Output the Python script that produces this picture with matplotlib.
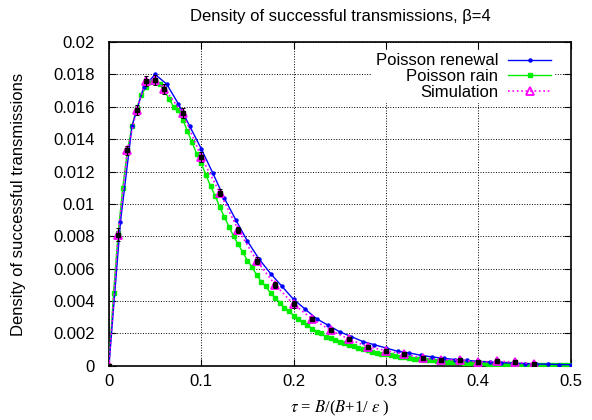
import numpy as np
import matplotlib
matplotlib.use("Agg")
import matplotlib.pyplot as plt
from matplotlib.ticker import FormatStrFormatter

plt.rcParams['font.family'] = ['Liberation Sans', 'DejaVu Sans']
plt.rcParams['mathtext.fontset'] = 'stix'

# Poisson renewal (markers every 0.0125)
renewal_x = np.arange(41) * 0.0125
renewal_y = [0, 0.0089, 0.0148, 0.0172, 0.0180, 0.0174, 0.0162, 0.0148, 0.0134,
             0.0119, 0.01035, 0.0090, 0.0077, 0.0066, 0.0057, 0.0049, 0.0041,
             0.0035, 0.0029, 0.0025, 0.0021, 0.0018, 0.0015, 0.0013, 0.0011,
             0.0009, 0.0008, 0.00065, 0.00055, 0.00046, 0.00039, 0.00033,
             0.00028, 0.00023, 0.0002, 0.00016, 0.00014, 0.00011, 0.0001,
             0.00008, 0.00007]

# Poisson rain (markers every 0.005)
rain_x = np.arange(101) * 0.005
rain_y = [0, 0.0045, 0.0082, 0.0110, 0.0133, 0.0148, 0.0159, 0.0167, 0.0172, 0.0175,
          0.0176, 0.0174, 0.0170, 0.0165, 0.0160, 0.0158, 0.0152, 0.0145, 0.0138, 0.0131,
          0.0125, 0.0118, 0.0111, 0.0105, 0.0098, 0.0092, 0.0086, 0.0080, 0.0075, 0.0070,
          0.0065, 0.0061, 0.0056, 0.0052, 0.0049, 0.0045, 0.0042, 0.0039, 0.0036, 0.0034,
          0.0031, 0.0029, 0.0027, 0.0025, 0.0023, 0.0021, 0.0020, 0.0018, 0.0017, 0.0016,
          0.0015, 0.0014, 0.0013, 0.0012, 0.0011, 0.00102, 0.00095, 0.00088, 0.00082, 0.00076,
          0.00072, 0.00066, 0.00061, 0.00057, 0.00053, 0.00049, 0.00045, 0.00042, 0.00039, 0.00036,
          0.00033, 0.00031, 0.00028, 0.00026, 0.00024, 0.00022, 0.00021, 0.00019, 0.00018, 0.00017,
          0.00016, 0.00015, 0.00014, 0.00013, 0.00012, 0.00011, 0.0001, 0.0001, 0.00009, 0.00008,
          0.00008, 0.00007, 0.00007, 0.00006, 0.00006, 0.00005, 0.00005, 0.00005, 0.00004, 0.00004,
          0.00004]

# Simulation
sim_x = [0, 0.01, 0.02, 0.03, 0.04, 0.05, 0.06, 0.08, 0.10, 0.12, 0.14, 0.16, 0.18,
         0.20, 0.22, 0.24, 0.26, 0.28, 0.30, 0.32, 0.34, 0.36, 0.38, 0.40, 0.42, 0.44, 0.46]
sim_y = [0, 0.0081, 0.0133, 0.0158, 0.0176, 0.01765, 0.0171, 0.0156, 0.0129, 0.0107,
         0.0084, 0.0065, 0.0050, 0.0038, 0.0029, 0.0022, 0.00164, 0.00119, 0.00094,
         0.00072, 0.00047, 0.00037, 0.00037, 0.00023, 0.00029, 0.00023, 0.00012]
sim_err = [0.0001, 0.0004, 0.0003, 0.0003, 0.0003, 0.0003, 0.0003, 0.0003, 0.0003, 0.0002,
           0.0002, 0.0002, 0.0002, 0.0002, 0.0001, 0.0001, 0.0001, 0.0001, 0.0001,
           0.0001, 0.0001, 0.0001, 0.0001, 0.0001, 0.0001, 0.0001, 0.0001]

fig = plt.figure(figsize=(5.92, 4.2), dpi=100)
ax = fig.add_axes([0.184, 0.129, 0.78, 0.771])

ax.plot(renewal_x, renewal_y, color='#0000ff', lw=1, marker='o', ms=2.2,
        label='Poisson renewal', zorder=4)
ax.plot(rain_x, rain_y, color='#00ee00', lw=1, marker='s', ms=2.2,
        label='Poisson rain', zorder=3)
ax.errorbar(sim_x, sim_y, yerr=sim_err, fmt='none', ecolor='black', elinewidth=0.7,
            ls=':', capsize=1.5, capthick=0.7, zorder=6)
ax.plot(sim_x, sim_y, 's', color='black', ms=2.2, zorder=6)
ax.plot(sim_x, sim_y, color='#ff00ff', lw=1.2, ls=':', marker='^', ms=6,
        mfc='none', mec='#ff00ff', mew=1.3, label='Simulation', zorder=5)

ax.set_xlim(0, 0.5)
ax.set_ylim(0, 0.02)
ax.set_xticks(np.arange(0, 0.51, 0.1))
ax.set_yticks(np.arange(0, 0.0201, 0.002))
ax.xaxis.set_major_formatter(FormatStrFormatter('%g'))
ax.yaxis.set_major_formatter(FormatStrFormatter('%g'))
ax.tick_params(direction='in', top=True, right=True, labelsize=12, length=5)
ax.tick_params(axis='y', pad=10)
ax.tick_params(axis='x', pad=6)
ax.grid(True, color='black', ls=':', lw=0.7)
for s in ax.spines.values():
    s.set_linewidth(1.2)

fig.text(340 / 592, 1 - 17 / 420, 'Density of successful transmissions, β=4',
         fontsize=12, ha='center', va='center')
fig.text(19 / 592, 1 - 204 / 420, 'Density of successful transmissions',
         fontsize=12, rotation=90, ha='center', va='center')
fig.text(340 / 592, 1 - 408 / 420, r'$\tau$ = $B$/($B$+1/ $\varepsilon$ )',
         fontsize=12, family='Liberation Serif', ha='center', va='center')

leg = ax.legend(loc='upper right', bbox_to_anchor=((555 - 109) / 462, 1 - 8 / 323),
                markerfirst=False, fontsize=12, frameon=True, framealpha=1,
                edgecolor='none', fancybox=False, handlelength=2.6, handletextpad=0.6,
                borderaxespad=0, labelspacing=0.05, borderpad=0.2)
for t in leg.get_texts():
    t.set_ha('right')

fig.savefig('out.png', dpi=100)
